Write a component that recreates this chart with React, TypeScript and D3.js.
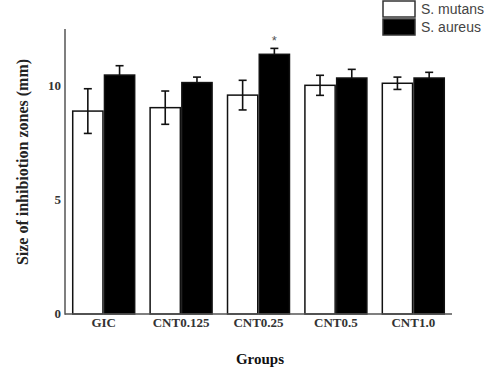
import React from "react";
import * as d3 from "d3";

const groups = ["GIC", "CNT0.125", "CNT0.25", "CNT0.5", "CNT1.0"];
const seriesNames = ["S. mutans", "S. aureus"];
const mutansMean = [8.9, 9.05, 9.6, 10.03, 10.12];
const mutansErr = [0.98, 0.73, 0.65, 0.44, 0.27];
const aureusMean = [10.48, 10.15, 11.39, 10.35, 10.35];
const aureusErr = [0.41, 0.24, 0.26, 0.38, 0.25];
const yTicks = [0, 5, 10];
const significant = [false, false, true, false, false];

const W = 493;
const H = 368;
const serif = "'Liberation Serif', 'Times New Roman', serif";
const sans = "'Liberation Sans', Arial, sans-serif";

export default function App() {
  const x0 = 65;
  const x1 = 452;
  const yBase = 314;

  const x = d3
    .scaleBand<string>()
    .domain(groups)
    .range([x0, x1])
    .paddingInner(0.18)
    .paddingOuter(0.09);
  const sub = d3
    .scaleBand<string>()
    .domain(seriesNames)
    .range([0, x.bandwidth()]);
  const y = d3.scaleLinear().domain([0, 12.5]).range([yBase, 29]);

  const series = [
    { name: seriesNames[0], mean: mutansMean, err: mutansErr, fill: "#fff" },
    { name: seriesNames[1], mean: aureusMean, err: aureusErr, fill: "#000" },
  ];

  const cap = 4;

  return (
    <svg
      width={W}
      height={H}
      style={{ position: "absolute", left: 0, top: 0, background: "#fff" }}
    >
      {/* bars */}
      {groups.map((g, i) =>
        series.map((s) => {
          const bx = (x(g) ?? 0) + (sub(s.name) ?? 0);
          const bw = sub.bandwidth();
          const top = y(s.mean[i]);
          return (
            <rect
              key={g + s.name}
              x={bx + 0.75}
              y={top}
              width={bw - 1.5}
              height={yBase - top}
              fill={s.fill}
              stroke="#111"
              strokeWidth={1.5}
            />
          );
        })
      )}
      {/* error bars */}
      {groups.map((g, i) =>
        series.map((s) => {
          const cx = (x(g) ?? 0) + (sub(s.name) ?? 0) + sub.bandwidth() / 2;
          const hi = y(s.mean[i] + s.err[i]);
          const lo = y(s.mean[i] - s.err[i]);
          const isBlack = s.fill === "#000";
          return (
            <g key={"e" + g + s.name} stroke="#111" strokeWidth={1.6}>
              <line x1={cx} x2={cx} y1={hi} y2={isBlack ? y(s.mean[i]) : lo} />
              <line x1={cx - cap} x2={cx + cap} y1={hi} y2={hi} />
              {!isBlack && <line x1={cx - cap} x2={cx + cap} y1={lo} y2={lo} />}
            </g>
          );
        })
      )}
      {/* significance marks */}
      {groups.map((g, i) =>
        significant[i] ? (
          <text
            key={"s" + g}
            x={(x(g) ?? 0) + (sub(seriesNames[1]) ?? 0) + sub.bandwidth() / 2}
            y={y(aureusMean[i] + aureusErr[i]) - 3}
            textAnchor="middle"
            fontFamily={sans}
            fontSize={13}
            fill="#555"
          >
            *
          </text>
        ) : null
      )}
      {/* axes */}
      <line x1={x0} x2={x0} y1={y(12.5)} y2={yBase + 0.75} stroke="#555" strokeWidth={1.5} />
      <line x1={x0} x2={x1} y1={yBase} y2={yBase} stroke="#555" strokeWidth={1.5} />
      {yTicks.map((t) => (
        <text
          key={"t" + t}
          x={x0 - 4}
          y={y(t) + 4}
          textAnchor="end"
          fontFamily={serif}
          fontWeight="bold"
          fontSize={13}
          fill="#333"
        >
          {t}
        </text>
      ))}
      {groups.map((g) => (
        <text
          key={"g" + g}
          x={(x(g) ?? 0) + x.bandwidth() / 2}
          y={yBase + 13}
          textAnchor="middle"
          fontFamily={serif}
          fontWeight="bold"
          fontSize={13}
          fill="#333"
        >
          {g}
        </text>
      ))}
      <text
        x={260}
        y={364}
        textAnchor="middle"
        fontFamily={serif}
        fontWeight="bold"
        fontSize={15}
        fill="#111"
      >
        Groups
      </text>
      <text
        transform={`translate(28,162) rotate(-90)`}
        textAnchor="middle"
        fontFamily={serif}
        fontWeight="bold"
        fontSize={16}
        fill="#222"
      >
        Size of inhibiotion zones (mm)
      </text>
      {/* legend */}
      {series.map((s, i) => (
        <g key={"l" + s.name}>
          <rect
            x={383}
            y={1 + i * 18}
            width={32}
            height={16}
            fill={s.fill}
            stroke="#333"
            strokeWidth={1.5}
          />
          <text
            x={421}
            y={14 + i * 18}
            fontFamily={sans}
            fontSize={14}
            fill="#444"
          >
            {s.name}
          </text>
        </g>
      ))}
    </svg>
  );
}
